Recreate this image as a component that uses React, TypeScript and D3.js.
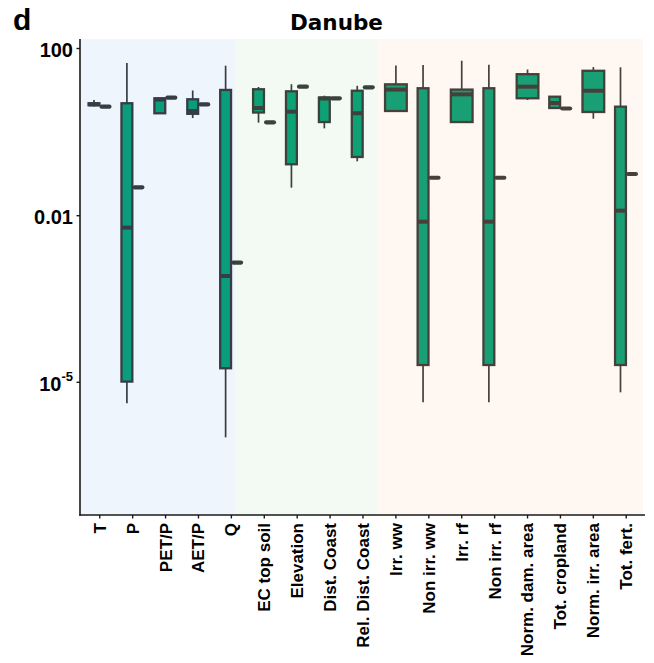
import React from 'react';
import * as d3 from 'd3';

// ---------- data ----------
const categories = [
  'T', 'P', 'PET/P', 'AET/P', 'Q',
  'EC top soil', 'Elevation', 'Dist. Coast', 'Rel. Dist. Coast',
  'Irr. ww', 'Non irr. ww', 'Irr. rf', 'Non irr. rf',
  'Norm. dam. area', 'Tot. cropland', 'Norm. irr. area', 'Tot. fert.',
];

const whiskerLow = [4.1, 4.2e-6, 2.82, 2.17, 1.02e-6, 1.68, 0.0468, 1.23, 0.2, 3.2, 4.37e-6, 1.74, 4.37e-6, 5.86, 3.57, 2.09, 6.6e-6];
const q1 = [4.4, 1.03e-5, 2.82, 2.74, 1.79e-5, 2.94, 0.17, 1.74, 0.254, 3.2, 2.05e-5, 1.74, 2.05e-5, 6.44, 3.77, 3.03, 2.05e-5];
const median = [4.6, 6.1e-3, 6.0, 3.2, 8.2e-4, 3.77, 3.08, 6.37, 2.82, 10.4, 7.8e-3, 8.0, 7.8e-3, 12.2, 4.97, 9.77, 0.0132];
const q3 = [4.9, 4.9, 6.44, 6.1, 10.2, 10.6, 9.46, 6.73, 9.77, 13.9, 11.2, 10.4, 11.2, 24.3, 7.03, 29.3, 4.06];
const whiskerHigh = [5.9, 45, 6.7, 9.9, 38.8, 12.0, 14.0, 7.43, 12.8, 39.2, 40.3, 51, 41, 31.5, 7.2, 36.0, 35.5];

// second (collapsed) group per category; null = group absent
const secondValue: (number | null)[] = [4.06, 0.0478, 6.65, 4.6, 1.43e-3, 1.71, 12.2, 6.44, 11.8, null, 0.081, null, 0.081, null, 3.67, null, 0.0995];

const yTickValues = [100, 0.01, 1e-5];
const yTickBase = ['100', '0.01', '10'];
const yTickSup = ['', '', '-5'];

// background groups (in category-index units, 1-based)
const regionStart = [0.4, 5.1, 9.45];
const regionEnd = [5.1, 9.45, 17.5];
const regionColor = ['rgb(85,155,225)', 'rgb(135,195,135)', 'rgb(245,175,125)'];

const title = 'Danube';
const panelTag = 'd';

// ---------- layout ----------
const W = 654;
const H = 663;
const panelLeft = 80;
const panelRight = 646;
const panelTop = 39;
const panelBottom = 515;

const FILL = '#009E73';
const LINE = '#333333';

export default function App() {
  const x = d3.scalePoint<string>().domain(categories).range([panelLeft, panelRight]).padding(0.6);
  const step = x.step();
  const x0 = x(categories[0]) as number;
  const unitToPx = (u: number) => x0 + (u - 1) * step;

  const yLin = d3.scaleLinear().domain([2, -2, -5]).range([48.5, 215.7, 382.3]);
  const y = (v: number) => yLin(Math.log10(v));

  const wideW = 0.66 * step;
  const narrowW = 0.33 * step;
  const dodge = 0.175 * step;

  const boxes = categories.map((c, i) => {
    const tick = x(c) as number;
    const single = secondValue[i] === null;
    const cx = single ? tick : tick - dodge;
    const w = single ? wideW : narrowW;
    return { c, i, cx, w, tick, single };
  });

  return (
    <svg width={W} height={H} style={{ position: 'absolute', left: 0, top: 0, background: '#fff' }}>
      {/* boxes */}
      {boxes.map(({ c, i, cx, w }) => (
        <g key={c}>
          <line x1={cx} x2={cx} y1={y(q3[i])} y2={y(whiskerHigh[i])} stroke={LINE} strokeWidth={1.7} />
          <line x1={cx} x2={cx} y1={y(q1[i])} y2={y(whiskerLow[i])} stroke={LINE} strokeWidth={1.7} />
          <rect x={cx - w / 2} y={y(q3[i])} width={w} height={Math.max(0.01, y(q1[i]) - y(q3[i]))}
            fill={FILL} stroke={LINE} strokeWidth={2.3} />
          <line x1={cx - w / 2} x2={cx + w / 2} y1={y(median[i])} y2={y(median[i])} stroke={LINE} strokeWidth={4} />
        </g>
      ))}
      {boxes.filter(b => !b.single).map(({ c, i, tick }) => {
        const cx = tick + dodge;
        const v = secondValue[i] as number;
        return (
          <line key={'s' + c} x1={cx - narrowW / 2 + 1.5} x2={cx + narrowW / 2 - 1.5} y1={y(v)} y2={y(v)}
            stroke={LINE} strokeWidth={4.2} strokeLinecap="round" />
        );
      })}

      {/* translucent group backgrounds */}
      {regionStart.map((s, k) => (
        <rect key={'r' + k} x={unitToPx(s)} width={unitToPx(regionEnd[k]) - unitToPx(s)}
          y={panelTop} height={panelBottom - panelTop} fill={regionColor[k]} fillOpacity={0.1} />
      ))}

      {/* axes */}
      <line x1={panelLeft} x2={panelLeft} y1={panelTop} y2={panelBottom + 0.75} stroke="#1a1a1a" strokeWidth={1.6} />
      <line x1={panelLeft - 0.75} x2={panelRight - 1} y1={panelBottom} y2={panelBottom} stroke="#1a1a1a" strokeWidth={1.6} />
      {yTickValues.map((v, k) => (
        <g key={'yt' + k}>
          <line x1={panelLeft - 3.5} x2={panelLeft} y1={y(v)} y2={y(v)} stroke="#1a1a1a" strokeWidth={1.4} />
          <text x={73} y={y(v) + 8.5} textAnchor="end" fontFamily="'Liberation Sans', Arial, sans-serif"
            fontWeight="bold" fontSize={20} fill="#000">
            {yTickBase[k]}
            {yTickSup[k] ? <tspan fontSize={13} dy={-10}>{yTickSup[k]}</tspan> : null}
          </text>
        </g>
      ))}
      {categories.map(c => {
        const tx = x(c) as number;
        return (
          <g key={'xt' + c}>
            <line x1={tx} x2={tx} y1={panelBottom} y2={panelBottom + 3.5} stroke="#1a1a1a" strokeWidth={1.4} />
            <text transform={`translate(${tx},${panelBottom + 8}) rotate(-90)`} dy="0.35em" textAnchor="end"
              fontFamily="'Liberation Sans', Arial, sans-serif" fontWeight="bold" fontSize={17} fill="#000">
              {c}
            </text>
          </g>
        );
      })}

      {/* title and tag */}
      <text x={336.5} y={30} textAnchor="middle" fontFamily="'DejaVu Sans', Verdana, sans-serif"
        fontWeight="bold" fontSize={21.5} fill="#000">{title}</text>
      <text x={13} y={30} fontFamily="'Liberation Sans', Arial, sans-serif" fontWeight="bold" fontSize={30} fill="#000">
        {panelTag}
      </text>
    </svg>
  );
}
